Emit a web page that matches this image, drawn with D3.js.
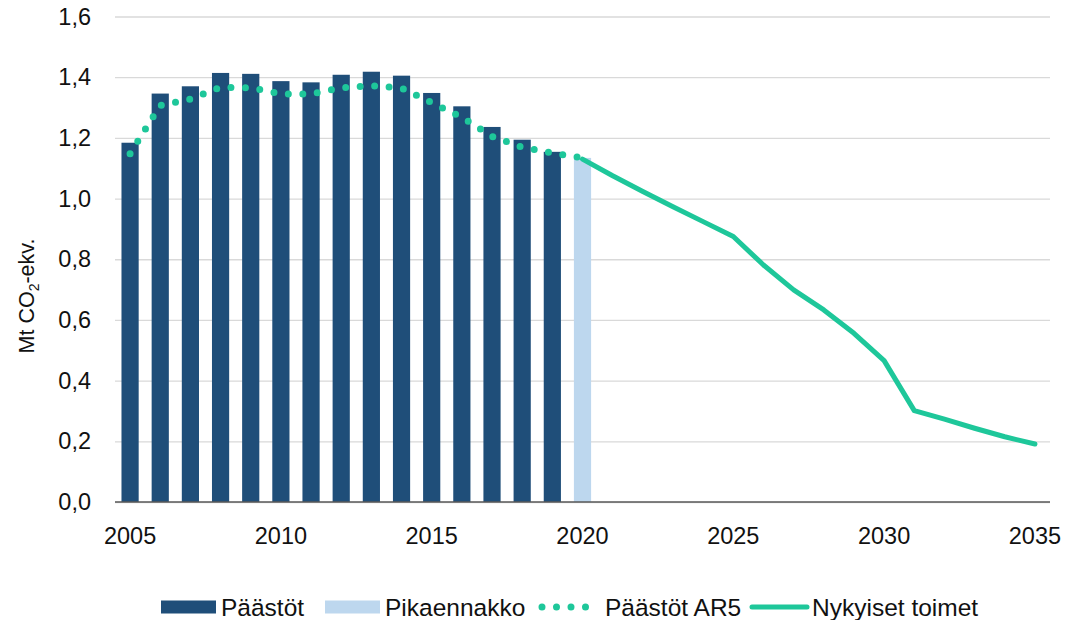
<!DOCTYPE html>
<html>
<head>
<meta charset="utf-8">
<script src="https://cdn.jsdelivr.net/npm/d3@7/dist/d3.min.js"></script>
<style>
  body { margin: 0; background: #fff; }
  svg { font-family: "Liberation Sans", Arial, sans-serif; }
</style>
</head>
<body>
<svg width="1067" height="620"></svg>
<script>
const years = [2005, 2006, 2007, 2008, 2009, 2010, 2011, 2012, 2013, 2014, 2015, 2016, 2017, 2018, 2019,
  2020, 2021, 2022, 2023, 2024, 2025, 2026, 2027, 2028, 2029, 2030, 2031, 2032, 2033, 2034, 2035];

// Päästöt 2005-2019
const paastotYears = [2005, 2006, 2007, 2008, 2009, 2010, 2011, 2012, 2013, 2014, 2015, 2016, 2017, 2018, 2019];
const paastot = [1.184, 1.346, 1.370, 1.414, 1.411, 1.387, 1.383, 1.408, 1.418, 1.405, 1.348, 1.304, 1.236, 1.194, 1.154];

// Pikaennakko 2020
const pikaYears = [2020];
const pika = [1.134];

// Päästöt AR5 2005-2020
const ar5Years = [2005, 2006, 2007, 2008, 2009, 2010, 2011, 2012, 2013, 2014, 2015, 2016, 2017, 2018, 2019, 2020];
const ar5 = [1.148, 1.307, 1.328, 1.367, 1.365, 1.345, 1.345, 1.365, 1.372, 1.364, 1.316, 1.268, 1.205, 1.169, 1.150, 1.134];

// Nykyiset toimet 2020-2035
const wemYears = [2020, 2021, 2022, 2023, 2024, 2025, 2026, 2027, 2028, 2029, 2030, 2031, 2032, 2033, 2034, 2035];
const wem = [1.13, 1.075, 1.023, 0.973, 0.924, 0.875, 0.781, 0.699, 0.633, 0.556, 0.466, 0.301, 0.273, 0.243, 0.215, 0.191];

const yTicks = [0, 0.2, 0.4, 0.6, 0.8, 1.0, 1.2, 1.4, 1.6];
const xLabels = [2005, 2010, 2015, 2020, 2025, 2030, 2035];

const dark = "#1f4e79", light = "#bdd7ee", green = "#1ec79a";

const svg = d3.select("svg");
const mLeft = 115, mRight = 1050, mTop = 16.5, mBottom = 502;

const x = d3.scaleBand().domain(years).range([mLeft, mRight])
  .paddingInner(0.43).paddingOuter(0.215);
const cx = d => x(d) + x.bandwidth() / 2;
const y = d3.scaleLinear().domain([0, 1.6]).range([mBottom, mTop]);

const fmt = d => d.toFixed(1).replace(".", ",");

// gridlines + y labels
const yAxis = svg.append("g")
  .attr("transform", `translate(${mLeft},0)`)
  .call(d3.axisLeft(y).tickValues(yTicks).tickFormat(fmt).tickSize(-(mRight - mLeft)).tickPadding(24));
yAxis.select(".domain").remove();
yAxis.selectAll(".tick line").attr("stroke", "#d9d9d9").attr("stroke-width", 1.3);
yAxis.selectAll(".tick text").attr("fill", "#111").style("font-size", "23.5px")
  .style("font-family", "Liberation Sans, Arial, sans-serif");

// bars
svg.append("g").selectAll("rect")
  .data(paastot)
  .join("rect")
  .attr("x", (d, i) => x(paastotYears[i]))
  .attr("width", x.bandwidth())
  .attr("y", d => y(d))
  .attr("height", d => y(0) - y(d))
  .attr("fill", dark);

svg.append("g").selectAll("rect")
  .data(pika)
  .join("rect")
  .attr("x", (d, i) => x(pikaYears[i]))
  .attr("width", x.bandwidth())
  .attr("y", d => y(d))
  .attr("height", d => y(0) - y(d))
  .attr("fill", light);

// x axis
const xAxis = svg.append("g")
  .attr("transform", `translate(0,${mBottom})`)
  .call(d3.axisBottom(x).tickValues(xLabels).tickSize(0).tickPadding(25));
xAxis.select(".domain").attr("stroke", "#595959").attr("stroke-width", 1.5)
  .attr("d", `M${mLeft},0H${mRight}`);
xAxis.selectAll(".tick text").attr("fill", "#111").style("font-size", "23.5px")
  .style("font-family", "Liberation Sans, Arial, sans-serif");

// lines
const line = d3.line().x(d => cx(d[0])).y(d => y(d[1]));

svg.append("path")
  .datum(wemYears.map((yr, i) => [yr, wem[i]]))
  .attr("d", line)
  .attr("fill", "none")
  .attr("stroke", green)
  .attr("stroke-width", 5)
  .attr("stroke-linejoin", "round")
  .attr("stroke-linecap", "round");

svg.append("path")
  .datum(ar5Years.map((yr, i) => [yr, ar5[i]]))
  .attr("d", line)
  .attr("fill", "none")
  .attr("stroke", green)
  .attr("stroke-width", 7)
  .attr("stroke-linecap", "round")
  .attr("stroke-dasharray", "0 14.5");

// y title
svg.append("text")
  .attr("transform", "translate(34,296) rotate(-90)")
  .attr("text-anchor", "middle")
  .attr("fill", "#111")
  .style("font-size", "21.5px")
  .call(t => {
    t.append("tspan").text("Mt CO");
    t.append("tspan").text("2").style("font-size", "14px").attr("dy", 5);
    t.append("tspan").text("-ekv.").attr("dy", -5);
  });

// legend
const legend = svg.append("g").attr("transform", "translate(0,607)");
const items = [
  { label: "Päästöt", type: "rect", color: dark, x0: 161, tx: 221 },
  { label: "Pikaennakko", type: "rect", color: light, x0: 325, tx: 385 },
  { label: "Päästöt AR5", type: "dots", color: green, x0: 540, tx: 605 },
  { label: "Nykyiset toimet", type: "line", color: green, x0: 752, tx: 812 }
];
items.forEach(it => {
  const g = legend.append("g");
  if (it.type === "rect") {
    g.append("rect").attr("x", it.x0).attr("y", -6.5).attr("width", 55).attr("height", 13).attr("fill", it.color);
  } else if (it.type === "dots") {
    g.append("line").attr("x1", it.x0 + 2).attr("x2", it.x0 + 50).attr("y1", 0).attr("y2", 0)
      .attr("stroke", it.color).attr("stroke-width", 7).attr("stroke-linecap", "round")
      .attr("stroke-dasharray", "0 14.5");
  } else {
    g.append("line").attr("x1", it.x0).attr("x2", it.x0 + 55).attr("y1", 0).attr("y2", 0)
      .attr("stroke", it.color).attr("stroke-width", 5).attr("stroke-linecap", "round");
  }
  g.append("text").attr("x", it.tx).attr("y", 0).attr("dy", "0.35em")
    .attr("fill", "#111").style("font-size", "24.5px").text(it.label);
});
</script>
</body>
</html>
